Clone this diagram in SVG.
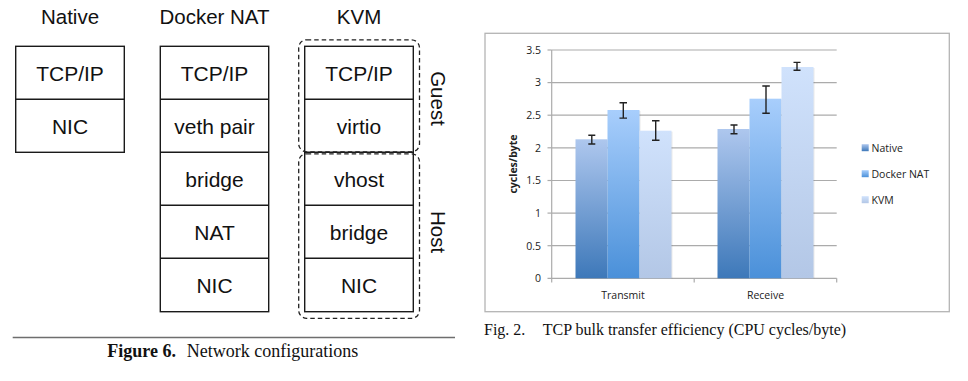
<svg xmlns="http://www.w3.org/2000/svg" width="968" height="381" viewBox="0 0 968 381">
<style>
.bx{fill:#fff;stroke:#1a1a1a;stroke-width:1.4}
.dv{stroke:#1a1a1a;stroke-width:1.4}
.lt{font-family:"Liberation Sans",Arial,sans-serif;font-size:21px;fill:#111;text-anchor:middle}
.hd{font-family:"Liberation Sans",Arial,sans-serif;font-size:20.5px;fill:#111;text-anchor:middle}
.ds{fill:none;stroke:#222;stroke-width:1.3;stroke-dasharray:4.5 3}
.cap{font-family:"Liberation Serif","Times New Roman",serif;fill:#111}
.ct{font-family:"Open Sans","Liberation Sans",sans-serif;font-size:10.5px;fill:#222}
.grid{stroke:#ababab;stroke-width:1.2}
.err{stroke:#222;stroke-width:1.4;fill:none}
</style>
<defs>
<linearGradient id="gN" x1="0" y1="0" x2="0" y2="1"><stop offset="0" stop-color="#aec7ee"/><stop offset="1" stop-color="#3d78b9"/></linearGradient>
<linearGradient id="gD" x1="0" y1="0" x2="0" y2="1"><stop offset="0" stop-color="#a8cefc"/><stop offset="1" stop-color="#4a90d9"/></linearGradient>
<linearGradient id="gK" x1="0" y1="0" x2="0" y2="1"><stop offset="0" stop-color="#d0e2fc"/><stop offset="1" stop-color="#b3c7e6"/></linearGradient>
</defs>
<rect width="968" height="381" fill="#fff"/>

<!-- Left figure: headers -->
<text class="hd" x="70" y="24">Native</text>
<text class="hd" x="214.5" y="24">Docker NAT</text>
<text class="hd" x="359" y="24">KVM</text>

<!-- Native stack -->
<g id="native-stack">
<rect class="bx" x="15.7" y="46.3" width="108.6" height="106"/>
<line class="dv" x1="15.7" y1="99.3" x2="124.3" y2="99.3"/>
<text class="lt" x="70" y="81">TCP/IP</text>
<text class="lt" x="70" y="134">NIC</text>
</g>

<!-- Docker NAT stack -->
<g id="docker-stack">
<rect class="bx" x="160.3" y="46.3" width="108.4" height="265.4"/>
<line class="dv" x1="160.3" y1="99.3" x2="268.7" y2="99.3"/>
<line class="dv" x1="160.3" y1="152.3" x2="268.7" y2="152.3"/>
<line class="dv" x1="160.3" y1="205.3" x2="268.7" y2="205.3"/>
<line class="dv" x1="160.3" y1="258.3" x2="268.7" y2="258.3"/>
<text class="lt" x="214.5" y="81">TCP/IP</text>
<text class="lt" x="214.5" y="134">veth pair</text>
<text class="lt" x="214.5" y="187">bridge</text>
<text class="lt" x="214.5" y="240">NAT</text>
<text class="lt" x="214.5" y="293">NIC</text>
</g>

<!-- KVM stack -->
<g id="kvm-stack">
<rect class="bx" x="304.7" y="46.3" width="108.6" height="265.4"/>
<line class="dv" x1="304.7" y1="99.3" x2="413.3" y2="99.3"/>
<line class="dv" x1="304.7" y1="152.3" x2="413.3" y2="152.3"/>
<line class="dv" x1="304.7" y1="205.3" x2="413.3" y2="205.3"/>
<line class="dv" x1="304.7" y1="258.3" x2="413.3" y2="258.3"/>
<text class="lt" x="359" y="81">TCP/IP</text>
<text class="lt" x="359" y="134">virtio</text>
<text class="lt" x="359" y="187">vhost</text>
<text class="lt" x="359" y="240">bridge</text>
<text class="lt" x="359" y="293">NIC</text>
</g>

<g id="guest-group">
<rect class="ds" x="298.7" y="39.8" width="120.8" height="112" rx="8"/>
<text class="hd" transform="translate(431,98.5) rotate(90)">Guest</text>
</g>
<g id="host-group">
<rect class="ds" x="298.7" y="153.8" width="120.8" height="164.5" rx="8"/>
<text class="hd" transform="translate(431,232) rotate(90)">Host</text>
</g>

<line x1="12.7" y1="337.5" x2="455" y2="337.5" stroke="#6e6e6e" stroke-width="1.3"/>
<text class="cap" x="107.3" y="357" font-size="18"><tspan font-weight="bold">Figure 6.</tspan></text>
<text class="cap" x="186.7" y="357" font-size="18">Network configurations</text>

<!-- Right chart -->
<g id="chart">
<rect x="485" y="33.3" width="464.3" height="278.4" fill="#fff" stroke="#b4b4b4" stroke-width="1.3"/>
<g id="gridlines">
<line class="grid" x1="551.7" y1="50" x2="836.7" y2="50"/>
<line class="grid" x1="551.7" y1="82.6" x2="836.7" y2="82.6"/>
<line class="grid" x1="551.7" y1="115.2" x2="836.7" y2="115.2"/>
<line class="grid" x1="551.7" y1="147.8" x2="836.7" y2="147.8"/>
<line class="grid" x1="551.7" y1="180.5" x2="836.7" y2="180.5"/>
<line class="grid" x1="551.7" y1="213.1" x2="836.7" y2="213.1"/>
<line class="grid" x1="551.7" y1="245.7" x2="836.7" y2="245.7"/>
</g>
<g id="axes">
<line class="grid" x1="551.7" y1="50" x2="551.7" y2="278.3"/>
<line class="grid" x1="547.5" y1="50" x2="551.7" y2="50"/>
<line class="grid" x1="547.5" y1="82.6" x2="551.7" y2="82.6"/>
<line class="grid" x1="547.5" y1="115.2" x2="551.7" y2="115.2"/>
<line class="grid" x1="547.5" y1="147.8" x2="551.7" y2="147.8"/>
<line class="grid" x1="547.5" y1="180.5" x2="551.7" y2="180.5"/>
<line class="grid" x1="547.5" y1="213.1" x2="551.7" y2="213.1"/>
<line class="grid" x1="547.5" y1="245.7" x2="551.7" y2="245.7"/>
<line class="grid" x1="547.5" y1="278.3" x2="836.7" y2="278.3"/>
<line class="grid" x1="551.7" y1="278.3" x2="551.7" y2="282.5"/>
<line class="grid" x1="694.2" y1="278.3" x2="694.2" y2="282.5"/>
<line class="grid" x1="836.7" y1="278.3" x2="836.7" y2="282.5"/>
</g>
<g id="ytick-labels" class="ct" text-anchor="end">
<text x="541" y="53.8">3.5</text>
<text x="541" y="86.4">3</text>
<text x="541" y="119">2.5</text>
<text x="541" y="151.6">2</text>
<text x="541" y="184.3">1.5</text>
<text x="541" y="216.9">1</text>
<text x="541" y="249.5">0.5</text>
<text x="541" y="282.1">0</text>
</g>
<text class="ct" transform="translate(516.5,164) rotate(-90)" text-anchor="middle" font-weight="bold" font-size="10">cycles/byte</text>

<g id="bars">
<g fill="#000" opacity="0.08">
<rect x="576.5" y="140.3" width="32" height="138"/>
<rect x="608.5" y="111" width="32" height="167.3"/>
<rect x="640.5" y="131.7" width="32" height="146.6"/>
<rect x="718.5" y="130" width="32" height="148.3"/>
<rect x="750.5" y="99.7" width="32" height="178.6"/>
<rect x="782.5" y="68" width="32" height="210.3"/>
</g>
<rect x="575.5" y="139.3" width="32" height="139" fill="url(#gN)"/>
<rect x="607.5" y="110" width="32" height="168.3" fill="url(#gD)"/>
<rect x="639.5" y="130.7" width="32" height="147.6" fill="url(#gK)"/>
<rect x="717.5" y="129" width="32" height="149.3" fill="url(#gN)"/>
<rect x="749.5" y="98.7" width="32" height="179.6" fill="url(#gD)"/>
<rect x="781.5" y="67" width="32" height="211.3" fill="url(#gK)"/>
</g>
<g id="errorbars" class="err">
<path d="M588.3 135.2h7M591.8 135.2v8.8M588.3 144h7"/>
<path d="M619.5 102.7h7.5M623.3 102.7v15.4M619.5 118.1h7.5"/>
<path d="M652 120.7h7.5M655.7 120.7v19.6M652 140.3h7.5"/>
<path d="M730.5 125h7M734 125v8.7M730.5 133.7h7"/>
<path d="M762.3 86h7.5M766 86v27.3M762.3 113.3h7.5"/>
<path d="M793.5 62.4h7M797 62.4v7.9M793.5 70.3h7"/>
</g>
<text class="ct" x="623" y="299.3" text-anchor="middle">Transmit</text>
<text class="ct" x="765.5" y="299.3" text-anchor="middle">Receive</text>
<g id="legend">
<rect x="861.7" y="144.2" width="7" height="7" fill="url(#gN)"/>
<text class="ct" x="871.5" y="151.7">Native</text>
<rect x="861.7" y="170.2" width="7" height="7" fill="url(#gD)"/>
<text class="ct" x="871.5" y="177.7">Docker NAT</text>
<rect x="861.7" y="196.2" width="7" height="7" fill="url(#gK)"/>
<text class="ct" x="871.5" y="203.7">KVM</text>
</g>
</g>
<text class="cap" x="484" y="334.5" font-size="16">Fig. 2.</text>
<text class="cap" x="542.7" y="334.5" font-size="16">TCP bulk transfer efficiency (CPU cycles/byte)</text>
</svg>
